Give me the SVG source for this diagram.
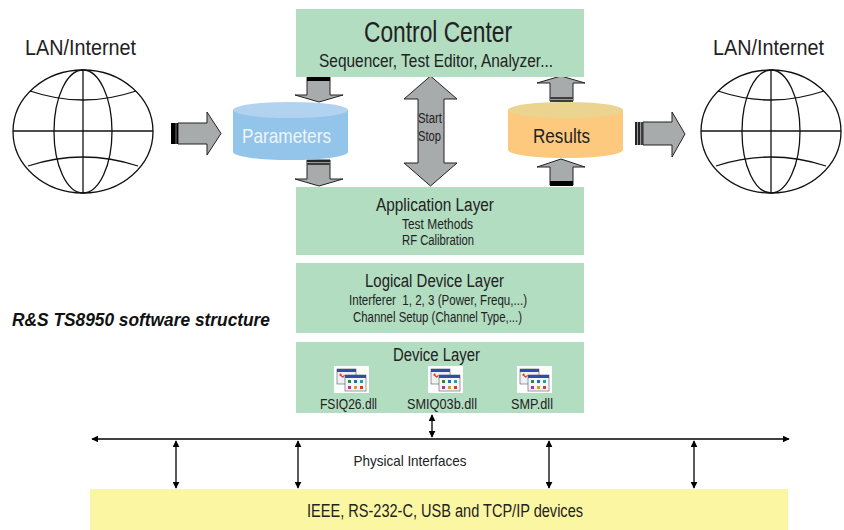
<svg xmlns="http://www.w3.org/2000/svg" xmlns:xlink="http://www.w3.org/1999/xlink" width="844" height="530" viewBox="0 0 844 530">
  <style>
    .t { font-family: "Liberation Sans Narrow", "Liberation Sans", Arial, sans-serif; fill: #222; }
    .layer { fill: #b2ddc1; }
    .block { fill: #a8abac; stroke: #222; stroke-width: 1; stroke-linejoin: miter; }
    .globe { fill: #fff; stroke: #111; stroke-width: 1.3; }
    .bus { stroke: #000; stroke-width: 1.3; fill: none; }
  </style>
  <defs>
    <marker id="ah" viewBox="0 0 10 10" refX="9" refY="5" markerWidth="7" markerHeight="7" markerUnits="userSpaceOnUse" orient="auto-start-reverse">
      <path d="M0,0 L10,5 L0,10 Z" fill="#000"/>
    </marker>
    <g id="globe">
      <ellipse class="globe" cx="83" cy="131.5" rx="70" ry="61.5"/>
      <ellipse fill="none" stroke="#111" stroke-width="1.3" cx="83" cy="131.5" rx="29" ry="61.5"/>
      <line stroke="#111" stroke-width="1.3" x1="83" y1="70" x2="83" y2="193"/>
      <line stroke="#111" stroke-width="1.3" x1="13" y1="131" x2="153" y2="131"/>
      <path fill="none" stroke="#111" stroke-width="1.3" d="M30,91 Q83,109 136,91"/>
      <path fill="none" stroke="#111" stroke-width="1.3" d="M28,166 Q83,148 138,166"/>
    </g>
    <g id="dll">
      <rect x="0" y="0" width="35" height="27" fill="#fff"/>
      <rect x="3" y="3" width="19" height="15" fill="#eef2f8" stroke="#556" stroke-width="0.6"/>
      <rect x="3" y="3" width="19" height="3" fill="#2f4f9f"/>
      <path d="M5,9 l2,-2 l1,3 l3,-1 l-2,3 z" fill="#e0402a"/>
      <rect x="11" y="9" width="21" height="16" fill="#f4f6fb" stroke="#556" stroke-width="0.6"/>
      <rect x="11" y="9" width="21" height="3" fill="#2f4f9f"/>
      <rect x="14" y="14" width="3" height="3" fill="#2a8a3a"/>
      <rect x="20" y="14" width="3" height="3" fill="#2a6ac0"/>
      <rect x="26" y="14" width="3" height="3" fill="#20a0a0"/>
      <rect x="14" y="20" width="3" height="3" fill="#c03080"/>
      <rect x="20" y="20" width="3" height="3" fill="#d0a020"/>
      <rect x="26" y="20" width="3" height="3" fill="#d04020"/>
    </g>
  </defs>

  <rect width="844" height="530" fill="#fff"/>

  <!-- block arrows, bus and interface arrows -->
  <g id="connectors">
    <!-- LAN -> Parameters -->
    <path class="block" d="M178,123 H207 V112 L221,133.5 L207,155 V144 H178 Z"/>
    <rect x="171" y="123" width="7" height="21" fill="#000"/>
    <line x1="176" y1="123" x2="176" y2="144" stroke="#777" stroke-width="1"/>

    <!-- Results -> LAN -->
    <path class="block" d="M643,122 H672 V112 L685,134 L672,157 V145 H643 Z"/>
    <rect x="635" y="122" width="8" height="23" fill="#999"/>
    <line x1="636" y1="122" x2="636" y2="145" stroke="#000" stroke-width="1.5"/>
    <line x1="639" y1="122" x2="639" y2="145" stroke="#000" stroke-width="1.5"/>
    <line x1="642" y1="122" x2="642" y2="145" stroke="#000" stroke-width="1.2"/>

    <!-- Control Center -> Parameters -->
    <path class="block" d="M307,77 H330 V95 H343 L319,102 L295,95 H307 Z"/>
    <rect x="307" y="76" width="23" height="5" fill="#000"/>

    <!-- Parameters -> Application Layer -->
    <path class="block" d="M307,160 H330 V179 H343 L319,186 L295,179 H307 Z"/>
    <rect x="307" y="160" width="23" height="5" fill="#999"/>
    <line x1="307" y1="161" x2="330" y2="161" stroke="#000" stroke-width="1.5"/>
    <line x1="307" y1="164" x2="330" y2="164" stroke="#000" stroke-width="1.2"/>

    <!-- Start / Stop -->
    <path class="block" d="M430.5,76 L457,99 H444 V163 H457 L430.5,186 L404,163 H418 V99 H404 Z"/>

    <!-- Results -> Control Center -->
    <path class="block" d="M550,101 V83 H537 L561,76 L585,83 H573 V101 Z"/>
    <rect x="550" y="97" width="23" height="5" fill="#999"/>
    <line x1="550" y1="98" x2="573" y2="98" stroke="#000" stroke-width="1.2"/>
    <line x1="550" y1="101" x2="573" y2="101" stroke="#000" stroke-width="1.2"/>

    <!-- Application Layer -> Results -->
    <path class="block" d="M550,185 V167 H537 L561,159 L585,167 H573 V185 Z"/>
    <rect x="550" y="181" width="23" height="5" fill="#000"/>

    <!-- interface bus -->
    <line class="bus" x1="92" y1="439" x2="789" y2="439" marker-start="url(#ah)" marker-end="url(#ah)"/>
    <line class="bus" x1="432" y1="415" x2="432" y2="437" marker-start="url(#ah)" marker-end="url(#ah)"/>
    <line class="bus" x1="176" y1="441" x2="176" y2="488" marker-start="url(#ah)" marker-end="url(#ah)"/>
    <line class="bus" x1="298" y1="441" x2="298" y2="488" marker-start="url(#ah)" marker-end="url(#ah)"/>
    <line class="bus" x1="549" y1="441" x2="549" y2="488" marker-start="url(#ah)" marker-end="url(#ah)"/>
    <line class="bus" x1="694" y1="441" x2="694" y2="488" marker-start="url(#ah)" marker-end="url(#ah)"/>
    <text class="t" x="410" y="466" font-size="15" text-anchor="middle" textLength="113" lengthAdjust="spacingAndGlyphs">Physical Interfaces</text>
  </g>

  <g id="control-center">
    <rect class="layer" x="296" y="9" width="288" height="68"/>
    <text class="t" x="438" y="42" font-size="30" text-anchor="middle" textLength="148" lengthAdjust="spacingAndGlyphs">Control Center</text>
    <text class="t" x="436" y="67" font-size="18" text-anchor="middle" textLength="234" lengthAdjust="spacingAndGlyphs">Sequencer, Test Editor, Analyzer...</text>
  </g>

  <g id="application-layer">
    <rect class="layer" x="296" y="187" width="288" height="68"/>
    <text class="t" x="435" y="211" font-size="18" text-anchor="middle" textLength="118" lengthAdjust="spacingAndGlyphs">Application Layer</text>
    <text class="t" x="437.5" y="229" font-size="14" text-anchor="middle" textLength="71" lengthAdjust="spacingAndGlyphs">Test Methods</text>
    <text class="t" x="438" y="245" font-size="14" text-anchor="middle" textLength="72" lengthAdjust="spacingAndGlyphs">RF Calibration</text>
  </g>

  <g id="logical-device-layer">
    <rect class="layer" x="296" y="263" width="288" height="70"/>
    <text class="t" x="434.5" y="287" font-size="18" text-anchor="middle" textLength="139" lengthAdjust="spacingAndGlyphs">Logical Device Layer</text>
    <text class="t" x="438" y="305" font-size="14" text-anchor="middle" textLength="178" lengthAdjust="spacingAndGlyphs" xml:space="preserve">Interferer  1, 2, 3 (Power, Frequ,...)</text>
    <text class="t" x="437.5" y="322" font-size="14" text-anchor="middle" textLength="169" lengthAdjust="spacingAndGlyphs">Channel Setup (Channel Type,...)</text>
  </g>

  <g id="device-layer">
    <rect class="layer" x="296" y="342" width="288" height="71"/>
    <text class="t" x="436.5" y="361" font-size="18" text-anchor="middle" textLength="87" lengthAdjust="spacingAndGlyphs">Device Layer</text>
    <use xlink:href="#dll" href="#dll" x="334" y="366"/>
    <use xlink:href="#dll" href="#dll" x="428" y="366"/>
    <use xlink:href="#dll" href="#dll" x="517" y="366"/>
    <text class="t" x="348.5" y="409" font-size="15" text-anchor="middle" textLength="57" lengthAdjust="spacingAndGlyphs">FSIQ26.dll</text>
    <text class="t" x="442" y="409" font-size="15" text-anchor="middle" textLength="70" lengthAdjust="spacingAndGlyphs">SMIQ03b.dll</text>
    <text class="t" x="532" y="409" font-size="15" text-anchor="middle" textLength="42" lengthAdjust="spacingAndGlyphs">SMP.dll</text>
  </g>

  <g id="parameters">
    <rect x="233" y="110" width="115" height="42" fill="#93c5ea"/>
    <ellipse cx="290.5" cy="152" rx="57.5" ry="8" fill="#93c5ea"/>
    <ellipse cx="290.5" cy="110" rx="57.5" ry="8" fill="#b1d3ef"/>
    <text x="286.5" y="143" font-size="21" text-anchor="middle" textLength="89" lengthAdjust="spacingAndGlyphs" style="font-family:'Liberation Sans Narrow','Liberation Sans',Arial,sans-serif;fill:#eef5fc">Parameters</text>
  </g>

  <g id="results">
    <rect x="508" y="110" width="115" height="40" fill="#fcc97f"/>
    <ellipse cx="565.5" cy="150" rx="57.5" ry="8" fill="#fcc97f"/>
    <ellipse cx="565.5" cy="110" rx="57.5" ry="8" fill="#ebd490"/>
    <text class="t" x="561.5" y="143" font-size="21" text-anchor="middle" textLength="57" lengthAdjust="spacingAndGlyphs">Results</text>
  </g>

  <g id="start-stop-label">
    <text class="t" x="418" y="123" font-size="14" textLength="24" lengthAdjust="spacingAndGlyphs">Start</text>
    <text class="t" x="418" y="141" font-size="14" textLength="23" lengthAdjust="spacingAndGlyphs">Stop</text>
  </g>

  <g id="lan-left">
    <text class="t" x="80.5" y="55" font-size="22" text-anchor="middle" textLength="111" lengthAdjust="spacingAndGlyphs">LAN/Internet</text>
    <use xlink:href="#globe" href="#globe"/>
  </g>

  <g id="lan-right">
    <text class="t" x="768.5" y="55" font-size="22" text-anchor="middle" textLength="111" lengthAdjust="spacingAndGlyphs">LAN/Internet</text>
    <use xlink:href="#globe" href="#globe" transform="translate(688,0)"/>
  </g>

  <g id="devices">
    <rect x="90" y="489" width="698" height="41" fill="#fbf6a2"/>
    <text class="t" x="445" y="517" font-size="18" text-anchor="middle" textLength="276" lengthAdjust="spacingAndGlyphs">IEEE, RS-232-C, USB and TCP/IP devices</text>
  </g>

  <g id="caption">
    <text class="t" x="12" y="326" font-size="19" font-weight="bold" font-style="italic" textLength="258" lengthAdjust="spacingAndGlyphs" style="fill:#111">R&amp;S TS8950 software structure</text>
  </g>
</svg>
